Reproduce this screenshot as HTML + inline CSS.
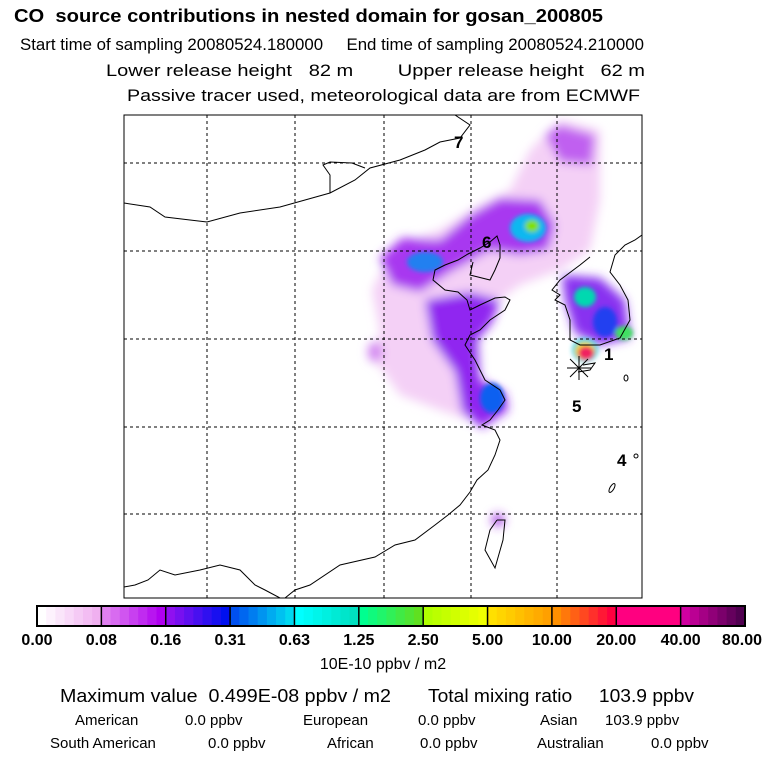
<!DOCTYPE html>
<html><head><meta charset="utf-8">
<style>
html,body{margin:0;padding:0;background:#fff}
svg{display:block}
text{font-family:"Liberation Sans",sans-serif;fill:#000;white-space:pre}
</style></head>
<body>
<svg id="chart" width="768" height="768" viewBox="0 0 768 768" xmlns="http://www.w3.org/2000/svg" xml:space="preserve">
<defs>
<filter id="blur6" x="-50%" y="-50%" width="200%" height="200%"><feGaussianBlur stdDeviation="5"/></filter>
<filter id="blur3" x="-50%" y="-50%" width="200%" height="200%"><feGaussianBlur stdDeviation="2"/></filter>
<clipPath id="mapclip"><rect x="124" y="115" width="518" height="483"/></clipPath>
</defs>
<rect x="0" y="0" width="768" height="768" fill="#fff"/>

<g font-size="17">
<text x="14" y="22" font-weight="bold" font-size="18" textLength="589" lengthAdjust="spacingAndGlyphs">CO  source contributions in nested domain for gosan_200805</text>
<text x="20" y="50" textLength="624" lengthAdjust="spacingAndGlyphs">Start time of sampling 20080524.180000     End time of sampling 20080524.210000</text>
<text x="106" y="76" textLength="539" lengthAdjust="spacingAndGlyphs">Lower release height   82 m        Upper release height   62 m</text>
<text x="127" y="101" textLength="513" lengthAdjust="spacingAndGlyphs">Passive tracer used, meteorological data are from ECMWF</text>
</g>

<g id="map" clip-path="url(#mapclip)">
<g filter="url(#blur6)">
<path d="M372,290 L395,245 L440,230 L480,205 L510,190 L530,150 L560,120 L600,130 L600,200 L590,250 L560,270 L520,285 L500,300 L480,330 L480,400 L470,420 L440,410 L400,395 L375,360 L380,330 Z" fill="#f4d0f6"/>
<path d="M380,258 L402,238 L440,240 L470,215 L500,198 L540,200 L555,225 L548,250 L520,255 L490,250 L450,272 L420,292 L392,285 Z" fill="#a838f0"/>
<path d="M425,300 L470,292 L500,300 L492,322 L478,340 L480,380 L505,393 L508,410 L482,428 L462,412 L455,372 L432,340 Z" fill="#9028f0"/>
<path d="M562,275 L600,278 L625,300 L630,338 L600,345 L575,333 L565,300 Z" fill="#8830f0"/>
<path d="M545,135 L560,125 L595,135 L592,165 L560,162 Z" fill="#c060f0"/>
<ellipse cx="498" cy="520" rx="6" ry="6" fill="#a030e0"/>
<ellipse cx="375" cy="352" rx="7" ry="10" fill="#d080f0"/>
</g>
<g filter="url(#blur3)">
<ellipse cx="425" cy="262" rx="18" ry="10" fill="#2080f0"/>
<ellipse cx="528" cy="228" rx="18" ry="14" fill="#10b8f0"/>
<ellipse cx="532" cy="226" rx="7" ry="6" fill="#80e000"/>
<ellipse cx="492" cy="398" rx="12" ry="15" fill="#1060f0"/>
<ellipse cx="605" cy="322" rx="12" ry="15" fill="#2040f0"/>
<ellipse cx="585" cy="297" rx="11" ry="10" fill="#00d8b0"/>
<ellipse cx="624" cy="333" rx="9" ry="7" fill="#40e060"/>
<ellipse cx="585" cy="350" rx="13" ry="12" fill="#30d0e0"/>
<ellipse cx="585" cy="351" rx="10" ry="9" fill="#f0e020"/>
<ellipse cx="586" cy="353" rx="8" ry="7" fill="#f02060"/>
</g>

<g fill="none" stroke="#000" stroke-width="1">
<polyline points="124,203 150,207 165,217 190,220 207,222 240,213 280,207 305,200 330,193 355,180 370,168 400,160 425,150 440,142 460,138 470,125 455,115"/>
<polyline points="330,193 330,175 323,165 330,162 352,163 365,168"/>
<polyline points="473,262 470,275 490,280 495,270 500,258 500,245 497,236 490,242 480,248 468,254 458,260 445,265 435,270 433,280 445,290 458,292 467,300 470,310 480,305 495,298 505,297 510,300 505,310 490,320 480,330 470,335 465,345 475,360 485,380 500,390 505,400 498,410 490,420 482,425 495,430 500,440 495,455 488,470 477,480 470,492 460,505 448,515 435,525 415,540 395,545 375,557 340,565 310,585 295,590 285,598"/>
<polyline points="590,257 580,265 560,280 552,290 560,295 555,300 565,305 570,320 570,340 580,345 600,345 620,338 630,320 628,300 620,285 610,272 615,255 625,245 635,240 642,235"/>
<polyline points="497,520 490,530 485,550 495,568 503,540 505,520 497,520"/>
<polyline points="124,587 135,585 148,580 160,570 175,575 200,570 220,565 240,570 255,585 265,590 280,598"/>
<polyline points="583,365 595,363 590,370 578,372"/>
<ellipse cx="626" cy="378" rx="2" ry="3"/>
<ellipse cx="636" cy="456" rx="2" ry="2"/>
<ellipse cx="612" cy="488" rx="2" ry="5" transform="rotate(30 612 488)"/>
</g>

<g id="grid" stroke="#000" stroke-width="1" stroke-dasharray="3,3"></g>

<g stroke="#000" stroke-width="1">
<line x1="567" y1="368" x2="591" y2="368"/>
<line x1="579" y1="356" x2="579" y2="380"/>
<line x1="570" y1="359" x2="588" y2="377"/>
<line x1="588" y1="359" x2="570" y2="377"/>
</g>
<g font-size="17" font-weight="bold">
<text x="454" y="148">7</text>
<text x="482" y="248">6</text>
<text x="604" y="360">1</text>
<text x="572" y="412">5</text>
<text x="617" y="466">4</text>
</g>
</g>
<rect x="124" y="115" width="518" height="483" fill="none" stroke="#000" stroke-width="1"/>

<g id="colorbar"></g>
<text x="383" y="669" font-size="16" text-anchor="middle">10E-10 ppbv / m2</text>

<g font-size="18">
<text x="60" y="702" textLength="331" lengthAdjust="spacingAndGlyphs">Maximum value  0.499E-08 ppbv / m2</text>
<text x="428" y="702" textLength="266" lengthAdjust="spacingAndGlyphs">Total mixing ratio     103.9 ppbv</text>
</g>
<g font-size="15">
<text x="75" y="725">American</text>
<text x="185" y="725">0.0 ppbv</text>
<text x="303" y="725">European</text>
<text x="418" y="725">0.0 ppbv</text>
<text x="540" y="725">Asian</text>
<text x="605" y="725">103.9 ppbv</text>
<text x="50" y="748">South American</text>
<text x="208" y="748">0.0 ppbv</text>
<text x="327" y="748">African</text>
<text x="420" y="748">0.0 ppbv</text>
<text x="537" y="748">Australian</text>
<text x="651" y="748">0.0 ppbv</text>
</g>
</svg>
<script>
const tickLabels = ["0.00","0.08","0.16","0.31","0.63","1.25","2.50","5.00","10.00","20.00","40.00","80.00"];
const segStart = ["#ffffff","#e080f0","#9010f0","#0050f0","#00ffff","#00ff90","#b0ff00","#ffe000","#ff9000","#ff0080","#d000a0"];
const segEnd   = ["#f0b0f0","#b000f0","#0010f0","#00d8f0","#00e0c0","#60e020","#f0ff00","#ffa000","#ff0040","#ff0080","#500050"];
const NS = "http://www.w3.org/2000/svg";
const svg = document.getElementById('colorbar');
const cbX0 = 37, cbX1 = 745, cbY = 606, cbH = 20;
const nSeg = segStart.length, sub = 7;
const segW = (cbX1 - cbX0) / nSeg;
function hex(c){return [1,3,5].map(i=>parseInt(c.substr(i,2),16));}
function mix(a,b,t){const A=hex(a),B=hex(b);return 'rgb('+A.map((v,i)=>Math.round(v+(B[i]-v)*t)).join(',')+')';}
for (let s=0;s<nSeg;s++){
  for (let k=0;k<sub;k++){
    const r=document.createElementNS(NS,'rect');
    
    
    r.setAttribute('x',cbX0+s*segW+k*segW/sub);
    r.setAttribute('y',cbY);
    r.setAttribute('width',segW/sub+0.6);
    r.setAttribute('height',cbH);
    r.setAttribute('fill',mix(segStart[s],segEnd[s],k/(sub-1)));
    svg.appendChild(r);
  }
}
for (let s=0;s<=nSeg;s++){
  const l=document.createElementNS(NS,'line');
  
  
  const x=cbX0+s*segW;
  l.setAttribute('x1',x);l.setAttribute('x2',x);
  l.setAttribute('y1',cbY);l.setAttribute('y2',cbY+cbH);
  l.setAttribute('stroke','#000');l.setAttribute('stroke-width','1.5');
  svg.appendChild(l);
}
const fr=document.createElementNS(NS,'rect');


fr.setAttribute('x',cbX0);fr.setAttribute('y',cbY);fr.setAttribute('width',cbX1-cbX0);fr.setAttribute('height',cbH);
fr.setAttribute('fill','none');fr.setAttribute('stroke','#000');fr.setAttribute('stroke-width','2');
svg.appendChild(fr);
tickLabels.forEach((t,i)=>{
  const tx=document.createElementNS(NS,'text');
  
  
  let x=cbX0+i*segW;
  tx.setAttribute('x',Math.min(Math.max(x,22),744));
  tx.setAttribute('y',645);
  tx.setAttribute('text-anchor', i===tickLabels.length-1?'end':'middle');
  if(i===tickLabels.length-1) tx.setAttribute('x',762);
  tx.setAttribute('font-size','16');
  tx.setAttribute('font-weight','bold');
  tx.textContent=t;
  svg.appendChild(tx);
});
const gridX=[207,295,384,471,557];
const gridY=[163,251,339,427,514];
const g=document.getElementById('grid');
gridX.forEach(x=>{const l=document.createElementNS(NS,'line');


l.setAttribute('x1',x);l.setAttribute('x2',x);l.setAttribute('y1',115);l.setAttribute('y2',598);g.appendChild(l);});
gridY.forEach(y=>{const l=document.createElementNS(NS,'line');


l.setAttribute('x1',124);l.setAttribute('x2',642);l.setAttribute('y1',y);l.setAttribute('y2',y);g.appendChild(l);});
</script>
</body></html>
